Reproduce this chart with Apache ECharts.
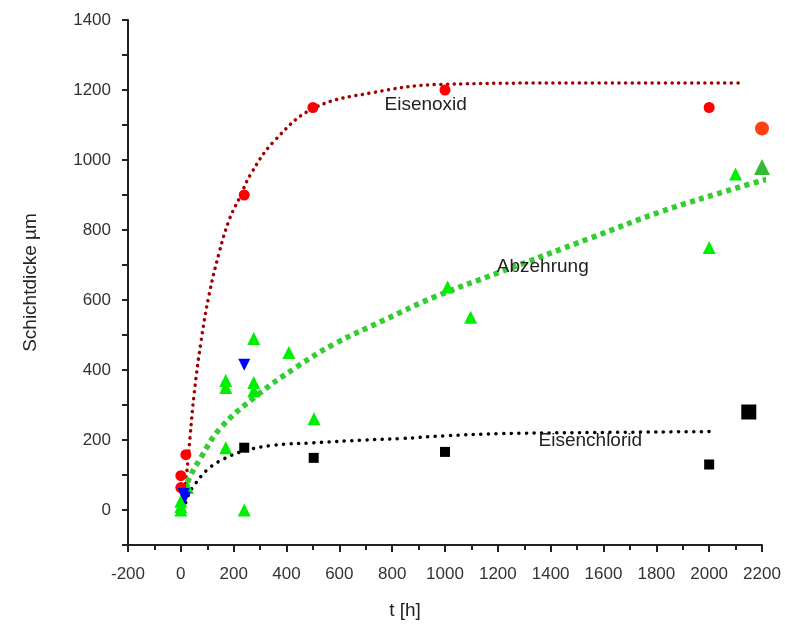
<!DOCTYPE html>
<html>
<head>
<meta charset="utf-8">
<script src="https://cdn.jsdelivr.net/npm/echarts@6/dist/echarts.min.js"></script>
<style>
  html, body { margin: 0; padding: 0; background: #fff; }
  #main { width: 785px; height: 628px; }
</style>
</head>
<body>
<div id="main"></div>
<script>
// Messwerte [t, Schichtdicke]
var oxidPts = [[0, 64], [0, 98], [19, 158], [240, 900], [500, 1150], [1000, 1200], [2000, 1150]];
var oxidLast = [[2200, 1090]];
var abzPts = [[0, 0], [0, 10], [0, 25], [25, 64], [170, 370], [170, 350], [170, 178], [240, 0],
  [276, 490], [276, 364], [276, 340], [409, 450], [504, 261], [1010, 637], [1097, 551],
  [2000, 750], [2100, 960]];
var abzLast = [[2200, 980]];
var blauPts = [[11, 46], [15, 35], [240, 415]];
var chloridPts = [[240, 178], [503, 149], [1000, 166], [2000, 130]];
var chloridLast = [[2150, 280]];

// Fitkurven
var oxidFit = [[5, 0], [20, 90], [35, 210], [50, 330], [76, 480], [107, 615], [145, 735], [183, 829],
  [221, 890], [265, 960], [352, 1053], [503, 1148], [730, 1193], [984, 1216], [1500, 1220], [2120, 1220]];
var abzFit = [[0, 0], [20, 70], [76, 150], [151, 235], [284, 325], [441, 410], [580, 474], [768, 542],
  [958, 608], [1199, 677], [1551, 777], [1816, 852], [2108, 921], [2259, 953]];
var chloridFit = [[10, 0], [30, 45], [50, 70], [100, 115], [160, 145], [240, 169], [350, 185], [503, 192],
  [700, 200], [832, 204], [1000, 212], [1200, 218], [1500, 221], [2005, 224]];

var labels = [
  { text: 'Eisenoxid', at: [927, 1158] },
  { text: 'Abzehrung', at: [1370, 695] },
  { text: 'Eisenchlorid', at: [1550, 197] }
];

var chart = echarts.init(document.getElementById('main'));

function fit(data, color, width, dash, cap) {
  return {
    type: 'line', data: data, smooth: 0.4, symbol: 'none', silent: true, clip: false,
    lineStyle: { color: color, width: width, type: dash, cap: cap }, z: 1
  };
}
function pts(data, symbol, size, color, rotate) {
  return {
    type: 'scatter', data: data, symbol: symbol, symbolSize: size, symbolRotate: rotate || 0,
    itemStyle: { color: color, opacity: 1 }, z: 3
  };
}

var option = {
  backgroundColor: '#fff',
  animation: false,
  grid: { left: 128, right: 23, top: 20, bottom: 83 },
  xAxis: {
    type: 'value', min: -200, max: 2200, interval: 200,
    name: 't [h]', nameLocation: 'middle', nameGap: 56,
    nameTextStyle: { fontSize: 19, color: '#222', fontFamily: 'Liberation Sans', padding: [0, 80, 0, 0] },
    axisLine: { show: true, onZero: false, lineStyle: { color: '#222', width: 2 } },
    axisTick: { show: true, length: 7, lineStyle: { color: '#222', width: 2 } },
    minorTick: { show: true, splitNumber: 2, length: 5, lineStyle: { color: '#222', width: 2 } },
    axisLabel: { fontSize: 17, color: '#333', fontFamily: 'Liberation Sans', margin: 21,
      formatter: function (v) { return String(v); } },
    splitLine: { show: false }
  },
  yAxis: {
    type: 'value', min: -100, max: 1400, interval: 100,
    name: 'Schichtdicke µm', nameLocation: 'middle', nameGap: 88,
    nameTextStyle: { fontSize: 19, color: '#222', fontFamily: 'Liberation Sans' },
    axisLine: { show: true, onZero: false, lineStyle: { color: '#222', width: 2 } },
    axisTick: { show: true, length: 6, lineStyle: { color: '#222', width: 2 } },
    axisLabel: {
      fontSize: 17, color: '#333', fontFamily: 'Liberation Sans', margin: 17,
      formatter: function (v) { return v % 200 === 0 ? String(v) : ''; }
    },
    splitLine: { show: false }
  },
  series: [
    fit(oxidFit, '#a00000', 3.5, [0.1, 6.5], 'round'),
    fit(abzFit, '#33cc33', 5.5, [5, 4.5], 'butt'),
    fit(chloridFit, '#000', 3.5, [0.1, 7.5], 'round'),
    pts(abzPts, 'triangle', 13, '#00ee00'),
    pts(abzLast, 'triangle', 16, '#33bb33'),
    pts(chloridPts, 'rect', 10, '#000'),
    pts(chloridLast, 'rect', 15, '#000'),
    pts(oxidPts, 'circle', 11, '#ff0000'),
    pts(oxidLast, 'circle', 14, '#ff4010'),
    pts(blauPts, 'triangle', 12, '#0000ff', 180)
  ]
};
chart.setOption(option);

chart.setOption({
  graphic: labels.map(function (l) {
    var p = chart.convertToPixel({ gridIndex: 0 }, l.at);
    return {
      type: 'text', x: p[0], y: p[1], z: 10,
      style: { text: l.text, fontSize: 19, fill: '#222', fontFamily: 'Liberation Sans',
        align: 'center', verticalAlign: 'middle' }
    };
  })
});
</script>
</body>
</html>
